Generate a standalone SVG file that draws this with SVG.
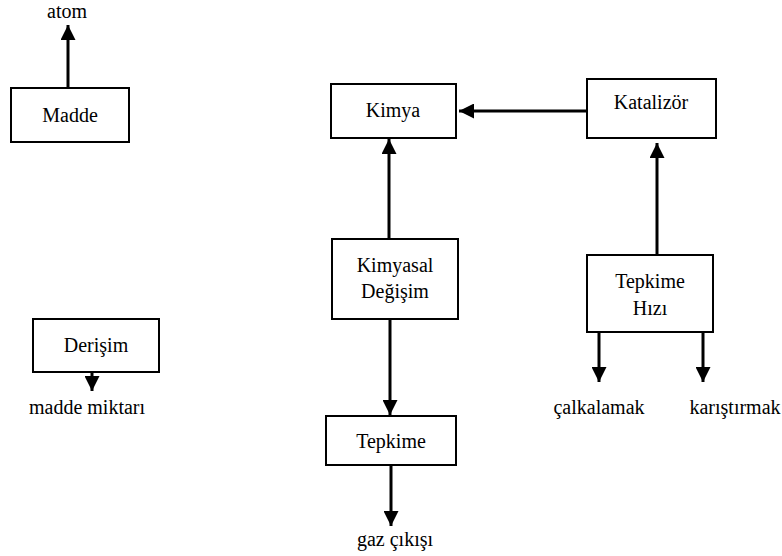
<svg xmlns="http://www.w3.org/2000/svg" width="782" height="556" viewBox="0 0 782 556">
<style>
.box{fill:#fff;stroke:#000;stroke-width:2}
.t{font-family:Liberation Serif,DejaVu Serif,Noto Serif,serif;font-size:20px;fill:#000;text-anchor:middle}
.c{stroke:#000;stroke-width:3;fill:none}
</style>
<defs>
<marker id="ah" viewBox="0 0 10 10" refX="10" refY="5" markerUnits="userSpaceOnUse" markerWidth="15" markerHeight="15" orient="auto">
<path d="M0,0 L10,5 L0,10 Z" fill="#000"/>
</marker>
</defs>
<rect width="782" height="556" fill="#fff"/>
<g id="connectors">
<line class="c" x1="68" y1="88" x2="68" y2="25" marker-end="url(#ah)"/>
<line class="c" x1="92" y1="372" x2="92" y2="391" marker-end="url(#ah)"/>
<line class="c" x1="587" y1="111" x2="459" y2="111" marker-end="url(#ah)"/>
<line class="c" x1="389" y1="239" x2="389" y2="139" marker-end="url(#ah)"/>
<line class="c" x1="657" y1="255" x2="657" y2="143" marker-end="url(#ah)"/>
<line class="c" x1="390" y1="319" x2="390" y2="415" marker-end="url(#ah)"/>
<line class="c" x1="391" y1="465" x2="391" y2="526" marker-end="url(#ah)"/>
<line class="c" x1="599" y1="332" x2="599" y2="382" marker-end="url(#ah)"/>
<line class="c" x1="703" y1="332" x2="703" y2="382" marker-end="url(#ah)"/>
</g>
<g id="atom"><text class="t" x="67" y="18">atom</text></g>
<g id="madde"><rect class="box" x="11" y="88" width="118" height="54"/><text class="t" x="70" y="122">Madde</text></g>
<g id="derisim"><rect class="box" x="33" y="319" width="126" height="53"/><text class="t" x="96" y="352">Derişim</text></g>
<g id="madde-miktari"><text class="t" x="87" y="414">madde miktarı</text></g>
<g id="kimya"><rect class="box" x="331" y="84" width="125" height="54"/><text class="t" x="393" y="117">Kimya</text></g>
<g id="katalizor"><rect class="box" x="587" y="79" width="129" height="59"/><text class="t" x="651" y="109">Katalizör</text></g>
<g id="kimyasal-degisim"><rect class="box" x="332" y="239" width="126" height="80"/><text class="t" x="395" y="272">Kimyasal</text><text class="t" x="395" y="298">Değişim</text></g>
<g id="tepkime-hizi"><rect class="box" x="587" y="255" width="126" height="77"/><text class="t" x="650" y="288">Tepkime</text><text class="t" x="650" y="315">Hızı</text></g>
<g id="tepkime"><rect class="box" x="326" y="416" width="130" height="49"/><text class="t" x="391" y="448">Tepkime</text></g>
<g id="gaz-cikisi"><text class="t" x="395" y="546">gaz çıkışı</text></g>
<g id="calkalamak"><text class="t" x="599" y="414">çalkalamak</text></g>
<g id="karistirmak"><text class="t" x="735" y="414">karıştırmak</text></g>
</svg>
